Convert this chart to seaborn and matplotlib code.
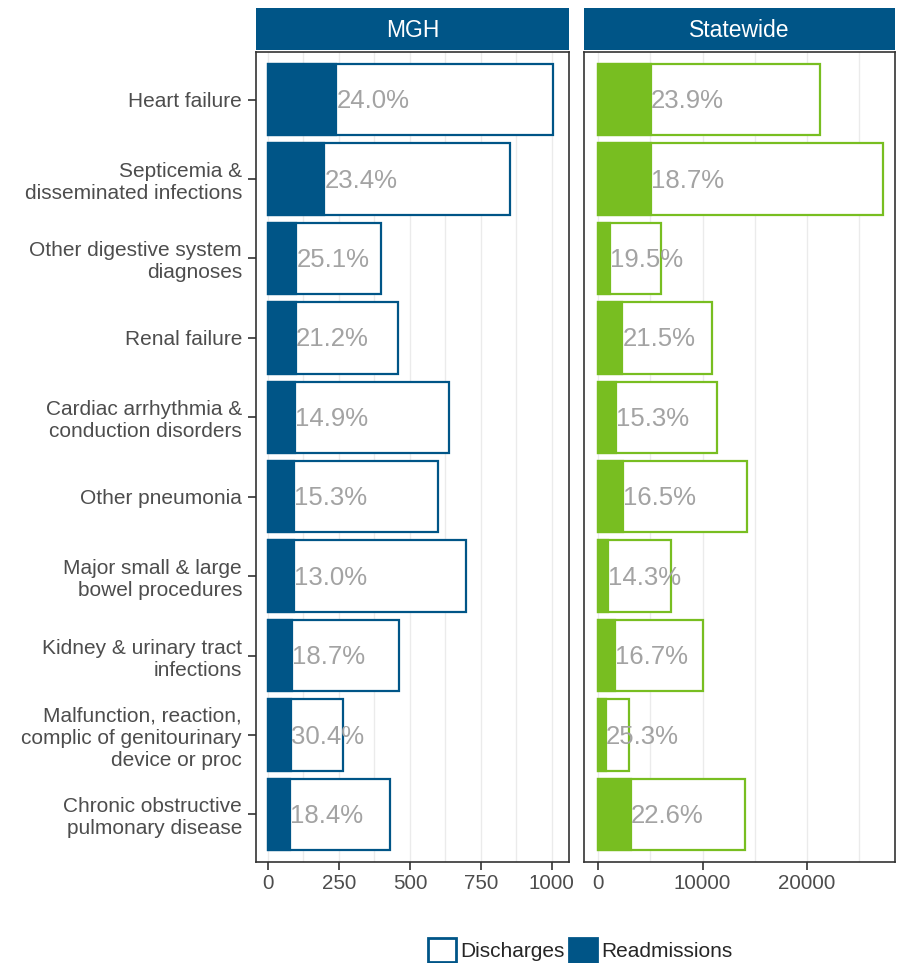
import numpy as np
import pandas as pd
import matplotlib
matplotlib.use("Agg")
import matplotlib.pyplot as plt
import matplotlib.patches as mpatches
from matplotlib.ticker import MultipleLocator
import seaborn as sns

conditions = [
    "Heart failure",
    "Septicemia &\ndisseminated infections",
    "Other digestive system\ndiagnoses",
    "Renal failure",
    "Cardiac arrhythmia &\nconduction disorders",
    "Other pneumonia",
    "Major small & large\nbowel procedures",
    "Kidney & urinary tract\ninfections",
    "Malfunction, reaction,\ncomplic of genitourinary\ndevice or proc",
    "Chronic obstructive\npulmonary disease",
]
mgh_discharges = [1003, 852, 398, 458, 637, 599, 697, 461, 264, 430]
mgh_readmissions = [241, 199, 100, 97, 95, 92, 91, 86, 80, 79]
mgh_rates = [24.0, 23.4, 25.1, 21.2, 14.9, 15.3, 13.0, 18.7, 30.4, 18.4]
state_discharges = [21210, 27230, 6020, 10890, 11370, 14240, 6970, 10030, 2960, 14040]
state_readmissions = [5070, 5090, 1170, 2340, 1740, 2350, 1000, 1675, 750, 3170]
state_rates = [23.9, 18.7, 19.5, 21.5, 15.3, 16.5, 14.3, 16.7, 25.3, 22.6]

panels = ["MGH", "Statewide"]
blue = "#005587"
green = "#78BE21"

sns.set_theme(style="white")
plt.rcParams["font.family"] = ["Liberation Sans", "DejaVu Sans"]

W, H = 899, 963
fig = plt.figure(figsize=(W / 100, H / 100), dpi=100)

panel_px = {"MGH": (256, 569), "Statewide": (584, 895)}
top_px, bot_px = 52, 862

setup = {
    "MGH": (mgh_discharges, mgh_readmissions, mgh_rates, blue, 250, 125, (-0.042, 1.057)),
    "Statewide": (state_discharges, state_readmissions, state_rates, green, 10000, 5000, (-0.049, 1.043)),
}

for name in panels:
    disch, readm, rates, col, major, minor, lims = setup[name]
    x0, x1 = panel_px[name]
    ax = fig.add_axes([x0 / W, 1 - bot_px / H, (x1 - x0) / W, (bot_px - top_px) / H])
    df = pd.DataFrame({"condition": conditions, "discharges": disch, "readmissions": readm})

    sns.barplot(data=df, x="discharges", y="condition", order=conditions, color="white",
                edgecolor=col, linewidth=1.6, width=0.9, saturation=1, ax=ax, zorder=2)
    sns.barplot(data=df, x="readmissions", y="condition", order=conditions, color=col,
                edgecolor=col, linewidth=1.6, width=0.9, saturation=1, ax=ax, zorder=3)

    for i, (r, p) in enumerate(zip(readm, rates)):
        ax.text(r, i + 0.02, f"{p:.1f}%", ha="left", va="center", color="#A3A3A3",
                fontsize=18.5, zorder=4)

    mx = max(disch)
    ax.set_xlim(lims[0] * mx, lims[1] * mx)
    ax.set_ylim(9.6, -0.6)
    ax.xaxis.set_major_locator(MultipleLocator(major))
    ax.xaxis.set_minor_locator(MultipleLocator(minor))
    ax.grid(True, axis="x", which="both", color="#EBEBEB", lw=1.0, zorder=0)
    ax.set_axisbelow(True)
    ax.set_xlabel("")
    ax.set_ylabel("")
    for s in ax.spines.values():
        s.set_color("#333333")
        s.set_linewidth(1.2)
    ax.tick_params(axis="x", which="major", bottom=True, length=5.5, width=1.2,
                   color="#333333", labelsize=14.8, labelcolor="#4D4D4D", pad=3)
    ax.tick_params(axis="x", which="minor", bottom=False)
    if name == "MGH":
        ax.tick_params(axis="y", left=True, length=5.5, width=1.2, color="#333333",
                       labelsize=15, labelcolor="#4D4D4D", pad=4.5)
        for lab in ax.get_yticklabels():
            lab.set_linespacing(1.2)
    else:
        ax.tick_params(axis="y", left=False, labelleft=False)

    # facet strip
    sax = fig.add_axes([x0 / W, 1 - 50 / H, (x1 - x0) / W, 42 / H])
    sax.set_facecolor(blue)
    sax.set_xticks([])
    sax.set_yticks([])
    for s in sax.spines.values():
        s.set_visible(False)
    sax.text(0.5, 0.47, name, ha="center", va="center", color="white", fontsize=16.5,
             transform=sax.transAxes)

handles = [
    mpatches.Patch(facecolor="white", edgecolor=blue, linewidth=2),
    mpatches.Patch(facecolor=blue, edgecolor=blue, linewidth=2),
]
fig.legend(handles, ["Discharges", "Readmissions"], loc="center",
           bbox_to_anchor=(580 / W, 1 - 950 / H), ncol=2, frameon=False, fontsize=15,
           handlelength=1.35, handleheight=1.35, columnspacing=0.2, handletextpad=0.2)

fig.savefig("out.png", dpi=100)
